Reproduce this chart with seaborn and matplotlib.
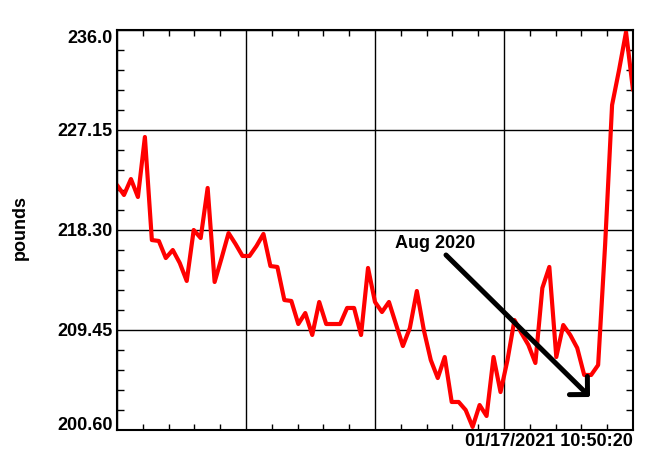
import matplotlib
matplotlib.use("Agg")
import matplotlib.pyplot as plt
from matplotlib.ticker import FixedLocator, FixedFormatter, MultipleLocator, NullFormatter
import seaborn as sns
import pandas as pd

# ---- data ----
weights = [
    222.28, 221.40, 222.81, 221.22, 226.53, 217.41, 217.33, 215.82, 216.53, 215.38,
    213.79, 218.30, 217.59, 222.02, 213.70, 215.82, 218.03, 217.06, 216.00, 216.00,
    216.88, 217.95, 215.11, 215.03, 212.10, 212.02, 209.98, 210.95, 209.01, 211.93,
    209.98, 209.98, 209.98, 211.40, 211.40, 209.01, 214.94, 211.93, 211.04, 211.93,
    209.98, 208.03, 209.63, 212.90, 209.45, 206.79, 205.20, 207.06, 203.08, 203.08,
    202.37, 200.87, 202.81, 201.84, 207.06, 203.96, 206.79, 210.33, 209.18, 208.12,
    206.53, 213.17, 215.03, 207.06, 209.89, 209.01, 207.86, 205.47, 205.47, 206.35,
    216.97, 229.36, 232.46, 235.82, 230.69,
]
sample = list(range(len(weights)))
y_ticks = [200.60, 209.45, 218.30, 227.15, 236.0]
y_tick_labels = ["200.60", "209.45", "218.30", "227.15", "236.0"]
y_label = "pounds"
x_end_label = "01/17/2021 10:50:20"
note_text = "Aug 2020"

df = pd.DataFrame({"sample": sample, "pounds": weights})

sns.set_style("white")
plt.rcParams["font.family"] = ["Liberation Sans", "DejaVu Sans"]
plt.rcParams["font.weight"] = "bold"
plt.rcParams["text.color"] = "black"
plt.rcParams["xtick.color"] = "black"
plt.rcParams["ytick.color"] = "black"
plt.rcParams["ytick.labelcolor"] = "black"

fig = plt.figure(figsize=(6.45, 4.53), dpi=100)
ax = fig.add_axes([117 / 645, 23 / 453, 516 / 645, 400 / 453])

sns.lineplot(data=df, x="sample", y="pounds", ax=ax, color="#ff0000", lw=3)

n = len(weights) - 1
ax.set_xlim(0, n)
ax.set_ylim(y_ticks[0], y_ticks[-1])

ax.xaxis.set_major_locator(MultipleLocator(n / 4))
ax.xaxis.set_minor_locator(MultipleLocator(n / 20))
ax.xaxis.set_major_formatter(NullFormatter())
ax.yaxis.set_major_locator(FixedLocator(y_ticks))
ax.yaxis.set_major_formatter(FixedFormatter(y_tick_labels))
ax.yaxis.set_minor_locator(FixedLocator(
    [y_ticks[0] + k * (y_ticks[1] - y_ticks[0]) / 5 for k in range(21)]))

ax.tick_params(which="both", direction="in", top=True, right=True, left=True, bottom=True,
               color="black", width=1)
ax.tick_params(which="major", length=0, pad=3, labelsize=13, labelcolor="black")
ax.tick_params(axis="y", which="minor", length=5)
ax.tick_params(axis="x", which="minor", length=4)

labels = ax.get_yticklabels()
for lab in labels:
    lab.set_fontweight("bold")
    lab.set_color("black")
labels[0].set_verticalalignment("baseline")
labels[-1].set_verticalalignment("top")

ax.grid(which="major", color="black", lw=1)
for s in ax.spines.values():
    s.set_color("black")
    s.set_linewidth(1.5)

ax.set_xlabel("")
ax.set_ylabel("")
fig.text(20 / 645, 1 - 228 / 453, y_label, rotation=90, ha="center", va="center",
         fontsize=13, fontweight="bold", color="black")
fig.text(633 / 645, 1 - 442 / 453, x_end_label, ha="right", va="center",
         fontsize=13, fontweight="bold", color="black")

ax.annotate("", xy=(0.9167, 0.0825), xycoords="axes fraction",
            xytext=(0.6376, 0.4375), textcoords="axes fraction",
            arrowprops=dict(arrowstyle="->, head_length=0.46, head_width=0.46",
                            mutation_scale=20, lw=3.6, color="black",
                            shrinkA=0, shrinkB=0))
ax.text(0.539, 0.465, note_text, transform=ax.transAxes, ha="left", va="center",
        fontsize=13, fontweight="bold", color="black")

fig.savefig("out.png", dpi=100)
